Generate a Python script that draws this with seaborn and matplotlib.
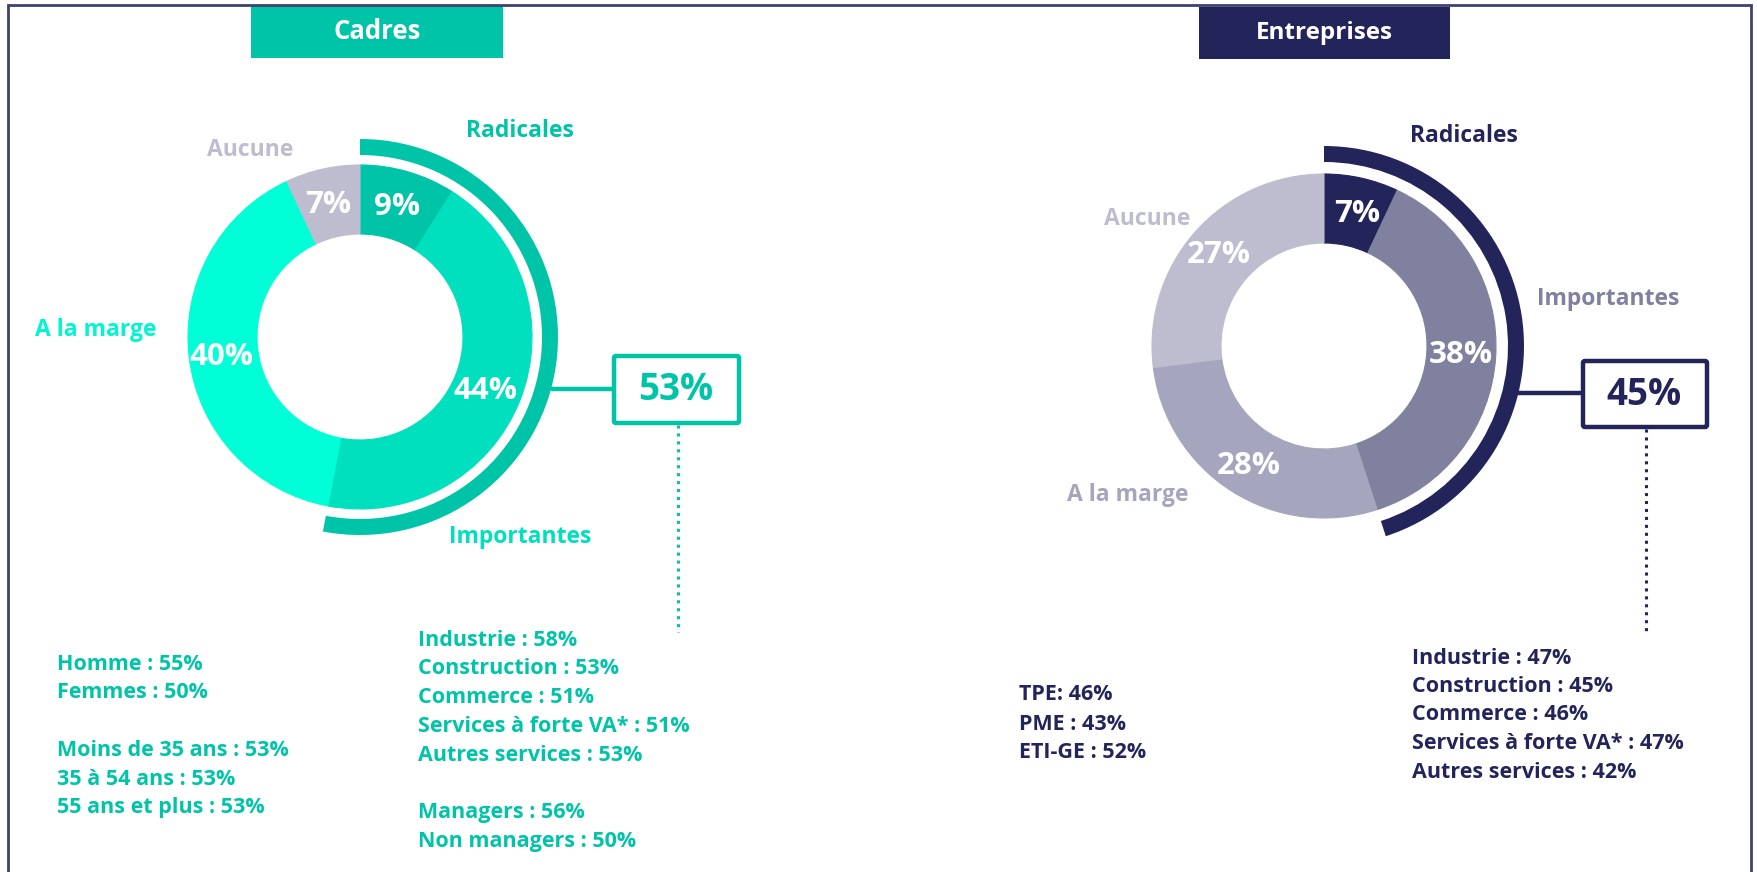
import matplotlib
matplotlib.use("Agg")
import matplotlib.pyplot as plt
from matplotlib.patches import Rectangle, FancyBboxPatch
import seaborn as sns

# données
segments = ["Radicales", "Importantes", "A la marge", "Aucune"]
cadres_pct = [9, 44, 40, 7]
entreprises_pct = [7, 38, 28, 27]
cadres_total = 53
entreprises_total = 45

profil_labels = ["Homme", "Femmes", "", "Moins de 35 ans", "35 à 54 ans", "55 ans et plus"]
profil_cadres = [55, 50, None, 53, 53, 53]

secteur_labels = ["Industrie", "Construction", "Commerce", "Services à forte VA*", "Autres services"]
secteur_cadres = [58, 53, 51, 51, 53]
secteur_entreprises = [47, 45, 46, 47, 42]

manager_labels = ["Managers", "Non managers"]
manager_cadres = [56, 50]

taille_labels = ["TPE:", "PME :", "ETI-GE :"]
taille_entreprises = [46, 43, 52]

# couleurs
TEAL = "#00C4A7"
teal_cols = ["#00C4A7", "#00E0BF", "#00FFD6", "#BEBDD0"]
NAVY = "#23245A"
navy_cols = ["#23245A", "#80819F", "#A5A6BE", "#BEBDD0"]

W, H = 1757, 872
sns.set_theme(style="white")
plt.rcParams["font.family"] = ["Open Sans", "DejaVu Sans"]

fig = plt.figure(figsize=(W / 100, H / 100), dpi=100)
ax = fig.add_axes([0, 0, 1, 1])


def Y(y):
    return H - y


def donut(values, total, cx, cy, colors, arc_r):
    wedges, _ = ax.pie(values, colors=colors, startangle=90, counterclock=False,
                       radius=172, center=(cx, Y(cy)), frame=True,
                       wedgeprops=dict(width=69, linewidth=0.8))
    for w in wedges:
        w.set_edgecolor(w.get_facecolor())
    ax.pie([total, 100 - total], colors=[colors[0], "none"], startangle=90,
           counterclock=False, radius=arc_r, center=(cx, Y(cy)), frame=True,
           wedgeprops=dict(width=16, linewidth=0))


def box_with_line(x0, x1, y0, y1, line_x0, line_y, dot_y1, total, color):
    ax.plot([line_x0, x0], [Y(line_y), Y(line_y)], color=color, lw=3.2, solid_capstyle="butt")
    ax.add_patch(FancyBboxPatch((x0, Y(y1)), x1 - x0, y1 - y0,
                                boxstyle="round,pad=0,rounding_size=2",
                                fill=False, edgecolor=color, lw=3.2))
    xm = (x0 + x1) / 2 + 1
    ax.plot([xm, xm], [Y(y1 + 2), Y(dot_y1)], color=color, lw=2.2,
            linestyle=(0, (1, 1.6)))
    ax.text((x0 + x1) / 2 - 1, Y((y0 + y1) / 2 + 1), f"{total}%", color=color,
            fontsize=26.5, fontweight="bold", ha="center", va="center")


def header(x0, x1, y0, y1, text, color, size):
    ax.add_patch(Rectangle((x0, Y(y1)), x1 - x0, y1 - y0, color=color, lw=0))
    ax.text((x0 + x1) / 2, Y((y0 + y1) / 2), text, color="white", fontsize=size,
            fontweight="bold", ha="center", va="center")


def text_block(x, y0, step, lines, color):
    for i, line in enumerate(lines):
        if line:
            ax.text(x, Y(y0 + i * step), line, color=color, fontsize=15.5,
                    fontweight="bold", ha="left", va="center")


# --- Cadres ---
header(251, 503, 6, 58, "Cadres", TEAL, 18.5)
donut(cadres_pct, cadres_total, 360, 337, teal_cols, 198)
box_with_line(614, 739, 356, 423, 551, 389, 632, cadres_total, TEAL)

label_pos_c = [(520, 131), (520, 537), (96, 330), (250, 150)]
label_col_c = ["#00C4A7", "#00E0BF", "#00F5D2", "#BEBDD0"]
for name, (x, y), c in zip(segments, label_pos_c, label_col_c):
    ax.text(x, Y(y), name, color=c, fontsize=16.5, fontweight="bold", ha="center", va="center")

pct_pos_c = [(397, 207), (486, 391), (221, 357), (328, 205)]
for v, (x, y) in zip(cadres_pct, pct_pos_c):
    ax.text(x, Y(y), f"{v}%", color="white", fontsize=22.5, fontweight="bold",
            ha="center", va="center")

text_block(57, 664, 28.8,
           [f"{l} : {v}%" if l else "" for l, v in zip(profil_labels, profil_cadres)], TEAL)
text_block(418, 640, 28.8,
           [f"{l} : {v}%" for l, v in zip(secteur_labels, secteur_cadres)] + [""] +
           [f"{l} : {v}%" for l, v in zip(manager_labels, manager_cadres)], TEAL)

# --- Entreprises ---
header(1199, 1450, 7, 59, "Entreprises", NAVY, 17.5)
donut(entreprises_pct, entreprises_total, 1324, 346, navy_cols, 200)
box_with_line(1583, 1707, 361, 427, 1517, 393, 635, entreprises_total, NAVY)

label_pos_e = [(1464, 136), (1608, 299), (1128, 495), (1147, 219)]
for name, (x, y), c in zip(segments, label_pos_e, navy_cols):
    ax.text(x, Y(y), name, color=c, fontsize=16.5, fontweight="bold", ha="center", va="center")

pct_pos_e = [(1357, 214), (1461, 355), (1249, 466), (1219, 255)]
for v, (x, y) in zip(entreprises_pct, pct_pos_e):
    ax.text(x, Y(y), f"{v}%", color="white", fontsize=22.5, fontweight="bold",
            ha="center", va="center")

text_block(1019, 695, 29,
           [f"{l} {v}%" for l, v in zip(taille_labels, taille_entreprises)], NAVY)
text_block(1412, 658, 28.5,
           [f"{l} : {v}%" for l, v in zip(secteur_labels, secteur_entreprises)], NAVY)

# cadre général
ax.add_patch(Rectangle((8, Y(900)), 1751 - 8, 900 - 5, fill=False,
                       edgecolor="#3F4170", lw=2))

ax.set_xlim(0, W)
ax.set_ylim(0, H)
ax.set_aspect("equal")
ax.axis("off")
fig.savefig("out.png", dpi=100, facecolor="white")
